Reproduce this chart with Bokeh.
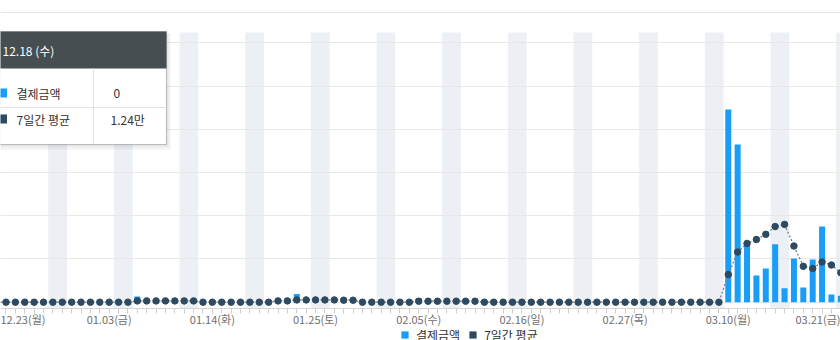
import datetime
from bokeh.plotting import figure
from bokeh.layouts import column
from bokeh.models import (FixedTicker, BoxAnnotation, Label, Span, Legend, LegendItem,
                          ColumnDataSource, Grid, Range1d)
from bokeh.embed import file_html
from bokeh.resources import INLINE

# ---------------- data ----------------
START = datetime.date(2024, 12, 22)          # day index -1
WEEKDAYS_KO = ["월", "화", "수", "목", "금", "토", "일"]

# 결제금액 (unit: 만원), day index -1 .. 89 (zero unless listed)
pay_amount = [0] * 91
early_pay_days = [14, 29, 31, 44]
early_pay = [13, 8, 19, 10]
for d, v in zip(early_pay_days, early_pay):
    pay_amount[1 + d] = v
march_pay = [446, 365, 137, 62, 78, 134, 32, 101, 34, 99, 175, 18, 15]   # 03.10 - 03.22
for k, v in enumerate(march_pay):
    pay_amount[1 + 77 + k] = v

# 7일간 평균 (unit: 만원), day index -1 .. 89 (zero unless listed)
avg7 = [0] * 91
early_avg_days = [14, 15, 16, 17, 18, 19, 20, 29, 30, 31, 32, 33, 34, 35, 36, 37,
                  44, 45, 46, 47, 48, 49, 50]
early_avg = [3.0, 3.0, 3.0, 3.0, 3.0, 3.0, 3.0, 3.0, 3.0, 5.3, 5.3, 5.3, 5.3, 5.3, 4.6, 4.6,
             2.3, 2.3, 2.3, 2.3, 2.3, 2.3, 2.3]
for d, v in zip(early_avg_days, early_avg):
    avg7[1 + d] = v
march_avg = [64, 116, 136, 145, 157, 175, 180, 130, 83, 78, 93, 86, 68]
for k, v in enumerate(march_avg):
    avg7[1 + 77 + k] = v

day_index = list(range(-1, 90))
dates = [START + datetime.timedelta(days=k) for k in range(len(day_index))]
tick_days = [0, 11, 22, 33, 44, 55, 66, 77, 88]
tick_labels = {}
for d in tick_days:
    dt = dates[d + 1]
    tick_labels[d] = f"{dt.month:02d}.{dt.day:02d}({WEEKDAYS_KO[dt.weekday()]})"
saturdays = [i for i, dt in zip(day_index, dates) if dt.weekday() == 5]
grid_values = [0, 100, 200, 300, 400, 500, 600]

series_names = ["결제금액", "7일간 평균"]
tooltip_date = "12.18 (수)"
tooltip_pay = "0"
tooltip_avg = "1.24만"

# ---------------- styling ----------------
FONT = "Noto Sans CJK KR"
BLUE = "#199df8"
NAVY = "#2e4a60"
BAND = "#ecf0f4"

W = 840
H1 = 330          # main chart (frame + axis)
BOTTOM = 22
FH = H1 - BOTTOM  # frame height = 308
H2 = 10           # legend strip

source = ColumnDataSource(dict(x=day_index, pay=pay_amount, avg=avg7))

p = figure(width=W, height=H1, output_backend="svg", toolbar_location=None,
           x_range=Range1d(-0.586, 88.965), y_range=Range1d(-14.57, 697.9),
           y_axis_location=None, min_border_left=0, min_border_right=0,
           min_border_top=0, min_border_bottom=BOTTOM)
p.outline_line_color = None
p.background_fill_color = "white"
p.border_fill_color = "white"
p.xgrid.visible = False

g = Grid(dimension=1, ticker=FixedTicker(ticks=grid_values),
         grid_line_color="#e8e8e8", grid_line_width=1)
p.add_layout(g)

# top border line
p.add_layout(Span(location=FH - 12, location_units="screen", dimension="width",
                  line_color="#e6e6e6", line_width=1))

# weekend bands
for s in saturdays:
    p.add_layout(BoxAnnotation(left=s - 0.5, right=s + 1.5, top=FH - 32, top_units="screen",
                               fill_color=BAND, fill_alpha=1.0, line_color=None, level="image"))

p.vbar(x="x", top="pay", width=0.64, bottom=0, source=source,
       fill_color=BLUE, line_color=None)
p.line(x="x", y="avg", source=source, line_color="#6f808f", line_width=1.3, line_dash="2 2")
p.scatter(x="x", y="avg", source=source, size=6.5, fill_color=NAVY, line_color=NAVY)

# x axis
ax = p.xaxis[0]
ax.ticker = FixedTicker(ticks=tick_days, minor_ticks=day_index)
ax.major_label_overrides = tick_labels
ax.axis_line_color = "#d4d4d4"
ax.major_tick_line_color = "#cfcfcf"
ax.minor_tick_line_color = "#cfcfcf"
ax.major_tick_out = 5
ax.major_tick_in = 0
ax.minor_tick_out = 5
ax.minor_tick_in = 0
ax.major_label_standoff = -3
ax.major_label_text_font = FONT
ax.major_label_text_font_size = "11px"
ax.major_label_text_color = "#6e6e6e"


def sy(py):
    return FH - py


def sbox(l, r, t, b, **kw):
    return BoxAnnotation(left=l, right=r, top=sy(t), bottom=sy(b),
                         left_units="screen", right_units="screen",
                         top_units="screen", bottom_units="screen", level="overlay", **kw)


# tooltip
p.add_layout(sbox(-2, 170, 33, 149, fill_color="black", fill_alpha=0.05, line_color=None))
p.add_layout(sbox(-2, 168, 32, 146, fill_color="black", fill_alpha=0.05, line_color=None))
p.add_layout(sbox(-2, 166, 31, 144, fill_color="white", fill_alpha=1, line_color="#3a3a3a", line_width=1))
p.add_layout(sbox(-2, 166, 31, 68, fill_color="#464e52", fill_alpha=1, line_color=None))
p.add_layout(sbox(0, 165, 106.5, 107.5, fill_color="#e2e2e2", fill_alpha=1, line_color=None))
p.add_layout(sbox(92.5, 93.5, 68, 143.5, fill_color="#e2e2e2", fill_alpha=1, line_color=None))
p.add_layout(sbox(-3, 6.5, 88, 97, fill_color=BLUE, fill_alpha=1, line_color=None))
p.add_layout(sbox(-3, 6.5, 114, 123, fill_color=NAVY, fill_alpha=1, line_color=None))


def slabel(x, py, text, color="#333333", size="12px"):
    return Label(x=x, y=sy(py), x_units="screen", y_units="screen", text=text,
                 text_font=FONT, text_font_size=size, text_color=color,
                 text_baseline="middle", level="overlay")


p.add_layout(slabel(2, 50, tooltip_date, color="white", size="12px"))
p.add_layout(slabel(16, 93, series_names[0]))
p.add_layout(slabel(113, 93, tooltip_pay))
p.add_layout(slabel(16, 119, series_names[1]))
p.add_layout(slabel(110, 119, tooltip_avg))

# ---------------- legend strip ----------------
p2 = figure(width=W, height=H2, output_backend="svg", toolbar_location=None,
            x_range=Range1d(0, 1), y_range=Range1d(0, 1),
            x_axis_location=None, y_axis_location=None,
            min_border_left=0, min_border_right=0, min_border_top=0, min_border_bottom=0)
p2.outline_line_color = None
p2.xgrid.visible = False
p2.ygrid.visible = False
p2.background_fill_color = "white"
p2.border_fill_color = "white"
lg_pay = p2.vbar(x=[5], top=[5], width=0.1, fill_color=BLUE, line_color=None)
lg_avg = p2.vbar(x=[5], top=[5], width=0.1, fill_color=NAVY, line_color=None)
legend = Legend(items=[LegendItem(label=series_names[0], renderers=[lg_pay]),
                       LegendItem(label=series_names[1], renderers=[lg_avg])],
                orientation="horizontal", location=(400, -3),
                glyph_width=9, glyph_height=9, label_height=9,
                label_text_font=FONT, label_text_font_size="12px", label_text_color="#333333",
                label_text_baseline="middle",
                padding=0, margin=0, spacing=8, label_standoff=7,
                border_line_color=None, background_fill_alpha=0)
p2.add_layout(legend, "center")

layout = column(p, p2, spacing=0)
open("out.html", "w").write(file_html(layout, INLINE))
